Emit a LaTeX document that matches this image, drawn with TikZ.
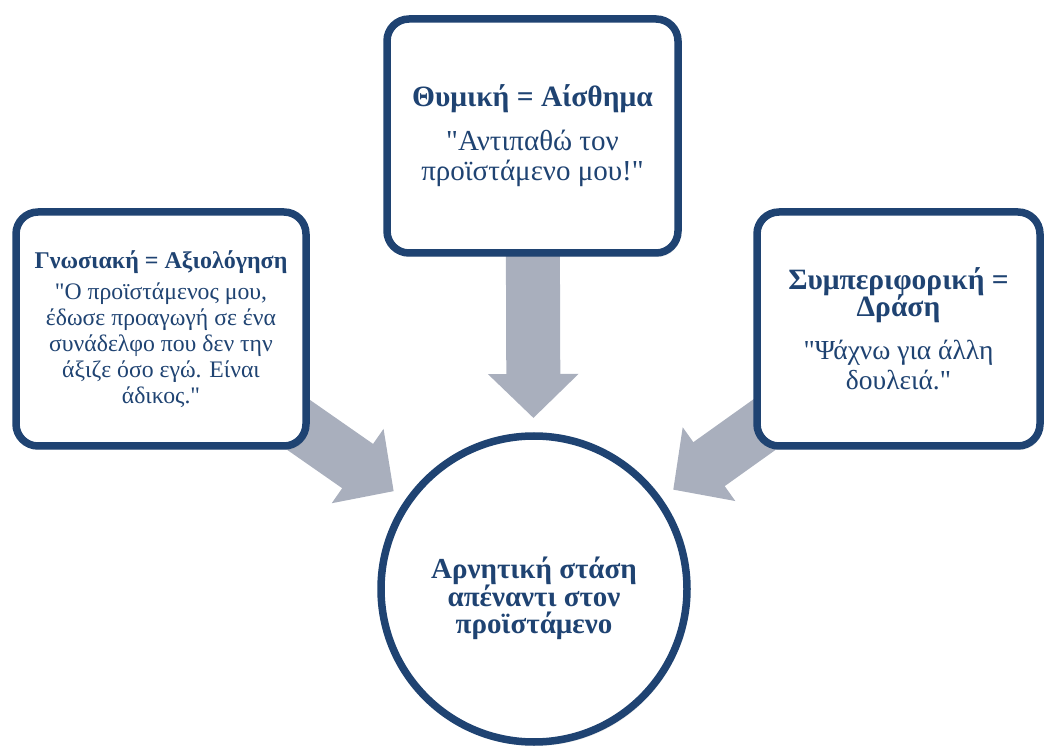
\documentclass[tikz,border=0pt]{standalone}
\usepackage{fontspec}
\setmainfont{Liberation Serif}[Ligatures=TeXOff]
\usepackage{tikz}
\usetikzlibrary{calc,arrows.meta,shadows,backgrounds}
\definecolor{boxblue}{HTML}{1F4372}
\definecolor{flowgrey}{HTML}{A9AFBD}

\begin{document}
\begin{tikzpicture}
      [x=1pt,y=1pt,
       box node/.style={rectangle,rounded corners=22pt,draw=boxblue,line width=7.5pt,fill=white,
         text=boxblue,align=center,inner sep=0pt,
         drop shadow={shadow xshift=2pt,shadow yshift=-4pt,opacity=0.15}},
       goal node/.style={circle,draw=boxblue,line width=7.5pt,fill=white,text=boxblue,align=center,
         minimum size=306pt,inner sep=0pt,
         drop shadow={shadow xshift=2pt,shadow yshift=-4pt,opacity=0.15}},
       flow/.style={draw=flowgrey,line width=54pt,-{Triangle[width=88pt,length=44pt]}}]
        \useasboundingbox (0,0) rectangle (1044,745);
        \node[box node,minimum width=291pt,minimum height=234pt,font=\fontsize{29}{30}\selectfont] (feel) at (532.5,609)
          {{\bfseries\fontsize{29.5}{30}\selectfont Θυμική = Αίσθημα}\\[14pt] "Αντιπαθώ τον\\ προϊστάμενο μου!"};
        \node[box node,minimum width=290pt,minimum height=234pt,font=\fontsize{23.7}{26}\selectfont] (know) at (161,416)
          {{\bfseries\fontsize{24}{26}\selectfont Γνωσιακή = Αξιολόγηση}\\[5pt] "Ο προϊστάμενος μου,\\ έδωσε προαγωγή σε ένα\\ συνάδελφο που δεν την\\ άξιζε όσο εγώ. Είναι\\ άδικος."};
        \node[box node,minimum width=283pt,minimum height=234pt,font=\fontsize{27.5}{30}\selectfont] (act) at (898.5,416)
          {{\bfseries\fontsize{29.5}{30}\selectfont Συμπεριφορική =}\\[-3pt] {\bfseries\fontsize{29.5}{30}\selectfont Δράση}\\[13pt] "Ψάχνω για άλλη\\ δουλειά."};
        \node[goal node,font=\bfseries\fontsize{29}{27}\selectfont] (goal) at (534,156)
          {\rule{0pt}{40pt}Αρνητική στάση\\ απέναντι στον\\ προϊστάμενο};

        \begin{scope}[on background layer]
        \draw[flow] (feel.center) -- ($(goal)!171pt!(feel)$);
        \draw[flow] (know.center) -- ($(goal)!171pt!(know)$);
        \draw[flow] (act.center) -- ($(goal)!171pt!(act)$);
        \end{scope}
      \end{tikzpicture}
\end{document}
